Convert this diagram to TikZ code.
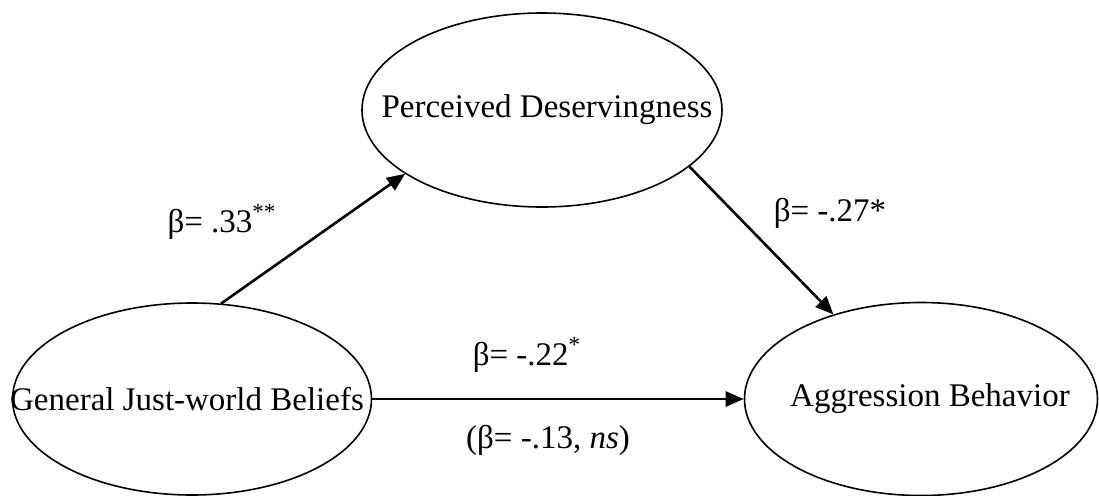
\documentclass[tikz,border=0pt]{standalone}
\usepackage{fontspec}
\setmainfont{Liberation Serif}
\usetikzlibrary{shapes.geometric,arrows.meta}

\tikzset{
    var/.style={draw, ellipse, line width=0.8pt, inner sep=0pt, font=\fontsize{16.5}{19}\selectfont},
    coef/.style={inner sep=0pt, font=\fontsize{16.5}{19}\selectfont},
    path/.style={line width=1.3pt, -{Triangle[length=9pt, width=7.5pt]}}
}

\begin{document}
\begin{tikzpicture}[x=0.5pt, y=-0.5pt]
                        \useasboundingbox (0,0) rectangle (1099,495);

                        % sizes are in pt (half of a pixel count), text kept out of the size
                        \node[var, minimum width=180pt, minimum height=97pt] (pd) at (542,110) {\makebox[0pt]{\hspace{5pt}\raisebox{-1.5pt}{Perceived Deservingness}}};
                        \node[var, minimum width=179.5pt, minimum height=96pt] (gjw) at (192,399) {\makebox[0pt]{\hspace{-5pt}\raisebox{-1.5pt}{General Just-world Beliefs}}};
                        \node[var, minimum width=176.5pt, minimum height=96.5pt] (agg) at (921,399) {\makebox[0pt]{\hspace{9pt}\raisebox{-1.5pt}{Aggression Behavior}}};

                        \foreach \u/\v in {%
                            gjw.73/pd.205,
                            pd.339/agg.136,
                            gjw.east/agg.west%
                            }{
                            \draw[path] (\u) -- (\v);
                        }

                        \node[coef] (b1) at (222,222) {β= .33\textsuperscript{**}};
                        \node[coef] (b2) at (830,213) {β= -.27*};
                        \node[coef] (b3) at (527,355) {β= -.22\textsuperscript{*}};
                        \node[coef] (b4) at (548,440) {(β= -.13, \textit{ns})};

                    \end{tikzpicture}
\end{document}
